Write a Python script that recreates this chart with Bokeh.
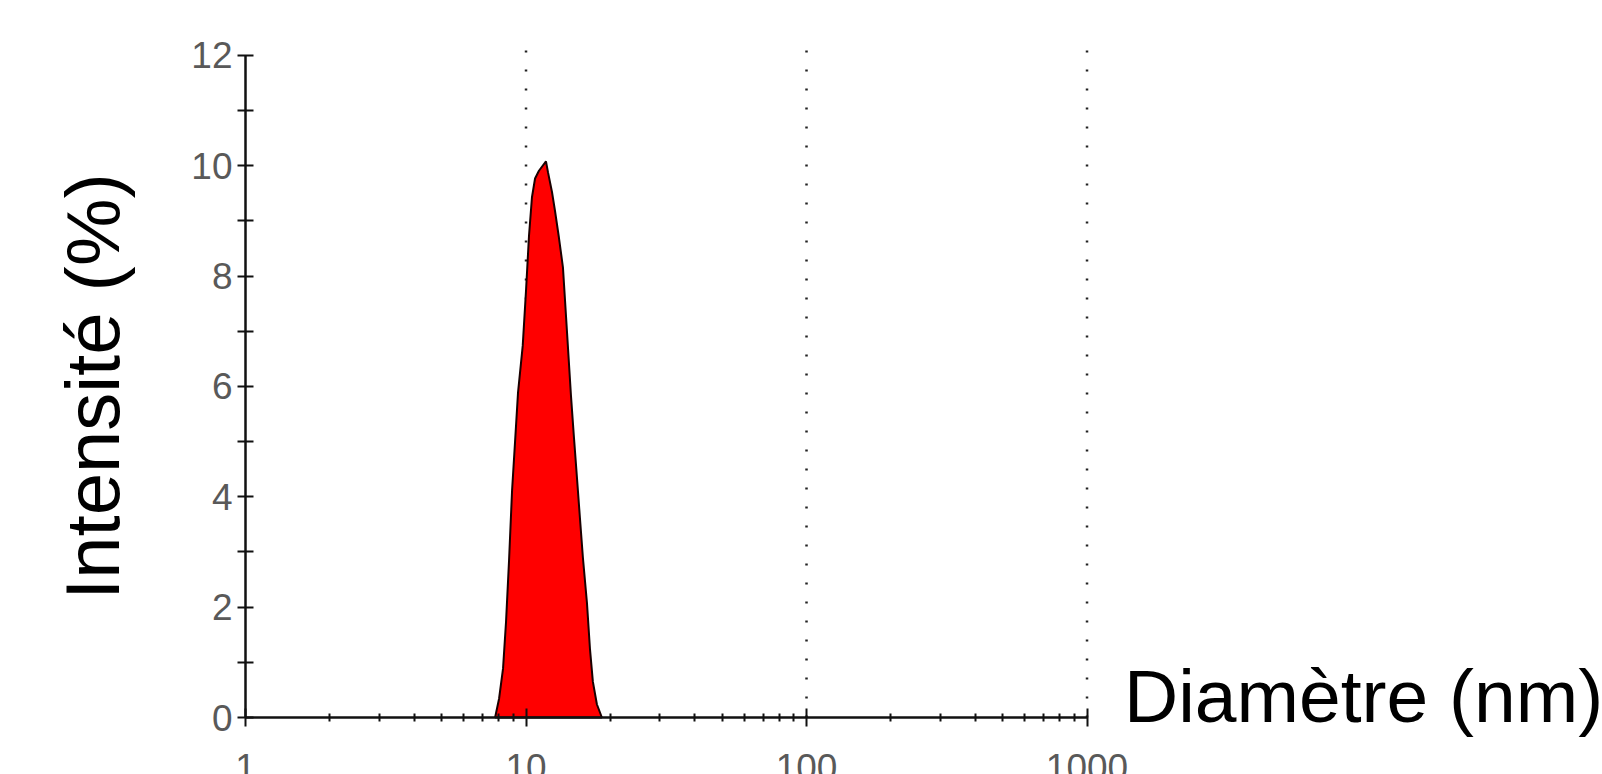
from bokeh.plotting import figure
from bokeh.models import FixedTicker, Label, Range1d, BasicTickFormatter
from bokeh.embed import file_html
from bokeh.resources import INLINE

# Size distribution by intensity
diameter_nm = [7.758, 8.015, 8.282, 8.488, 8.700, 8.917, 9.140, 9.365, 9.734, 10.0,
               10.25, 10.50, 10.77, 11.12, 11.78, 11.98, 12.38, 12.68, 13.10, 13.54,
               13.99, 14.46, 14.82, 15.19, 15.56, 15.95, 16.49, 16.90, 17.31, 17.89, 18.64]
intensity_pct = [0, 0.34, 0.89, 1.74, 2.85, 4.11, 5.00, 5.89, 6.74, 7.74,
                 8.74, 9.43, 9.77, 9.91, 10.08, 9.88, 9.52, 9.19, 8.70, 8.16,
                 7.01, 5.84, 5.08, 4.35, 3.63, 2.90, 2.08, 1.25, 0.65, 0.24, 0]

x_ticks = [1, 10, 100, 1000]
x_tick_labels = ["1", "10", "100", "1000"]
x_minor_ticks = [m * 10 ** k for k in range(3) for m in range(2, 10)]
y_ticks = [0, 2, 4, 6, 8, 10, 12]
y_minor_ticks = [1, 3, 5, 7, 9, 11]
grid_decades = [10, 100, 1000]

x_label = "Diamètre (nm)"
y_label = "Intensité (%)"

FONT = "Liberation Sans"

p = figure(width=1602, height=774, x_axis_type="log",
           x_range=Range1d(0.13381, 68823), y_range=Range1d(-1.033, 12.996),
           output_backend="svg", toolbar_location=None, min_border=0)
p.outline_line_color = None
p.background_fill_color = "white"
p.border_fill_color = "white"
p.xgrid.visible = False
p.ygrid.visible = False

# dotted vertical lines at decades
p.segment(x0=grid_decades, y0=[0] * len(grid_decades), x1=grid_decades,
          y1=[12.16] * len(grid_decades), line_dash="2 17", line_color="#222222",
          line_width=2.5)

p.patch(diameter_nm, intensity_pct, fill_color="#ff0000", line_color="#1a0000",
        line_width=2)

xa = p.xaxis[0]
ya = p.yaxis[0]
xa.fixed_location = 0
ya.fixed_location = 1
xa.bounds = (1, 1000)
ya.bounds = (0, 12)

xa.ticker = FixedTicker(ticks=x_ticks, minor_ticks=x_minor_ticks)
xa.formatter = BasicTickFormatter()
xa.major_label_overrides = {t: s for t, s in zip(x_ticks, x_tick_labels)}
ya.ticker = FixedTicker(ticks=y_ticks, minor_ticks=y_minor_ticks)

for ax in (xa, ya):
    ax.axis_line_width = 2.5
    ax.axis_line_color = "#111111"
    ax.major_tick_line_width = 2
    ax.minor_tick_line_width = 2
    ax.major_tick_line_color = "#111111"
    ax.minor_tick_line_color = "#111111"
    ax.major_label_text_font = FONT
    ax.major_label_text_font_size = "37px"
    ax.major_label_text_color = "#595959"

xa.major_tick_in = 9
xa.major_tick_out = 9
xa.minor_tick_in = 4
xa.minor_tick_out = 4
xa.major_label_standoff = 27

ya.major_tick_in = 8
ya.major_tick_out = 8
ya.minor_tick_in = 8
ya.minor_tick_out = 8
ya.major_label_standoff = 5

ya.axis_label = y_label
ya.axis_label_text_font = FONT
ya.axis_label_text_font_size = "76px"
ya.axis_label_text_font_style = "normal"
ya.axis_label_text_color = "black"
ya.axis_label_standoff = 53

xlab = Label(x=1000, y=0, text=x_label, x_offset=37, y_offset=22,
             text_font=FONT, text_font_size="75px", text_color="black",
             text_baseline="alphabetic", text_align="left")
p.add_layout(xlab)

open("out.html", "w").write(file_html(p, INLINE))
